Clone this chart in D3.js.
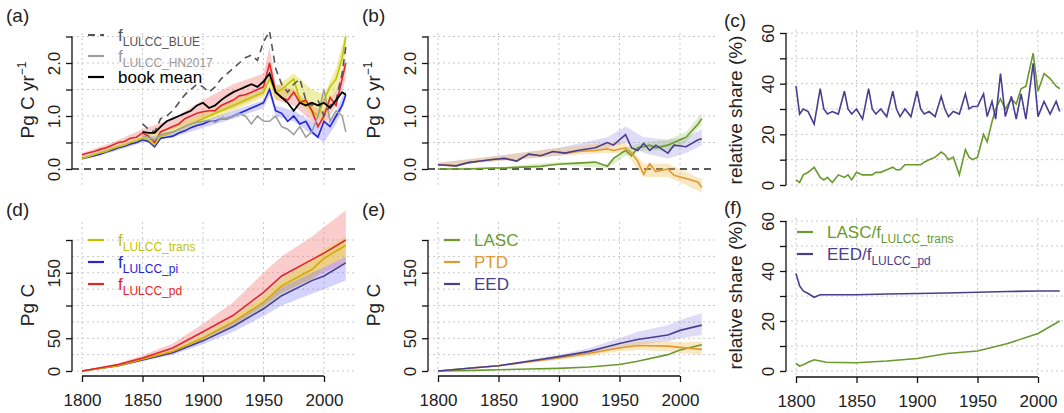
<!DOCTYPE html>
<html><head><meta charset="utf-8">
<script src="https://cdn.jsdelivr.net/npm/d3@7"></script>
<style>body{margin:0;background:#fff}text{font-family:"Liberation Sans",Arial,sans-serif}</style>
</head><body>
<script>
// ---- data ----
const yrsA = d3.range(1800, 2016, 5).concat([2018]);
const yrsBook = d3.range(1850, 2016, 5).concat([2018]);
const aPd = [.27,.3,.33,.37,.4,.45,.5,.52,.58,.6,.68,.62,.5,.7,.75,.8,.85,.95,1.0,1.05,1.08,1.1,1.1,1.2,1.25,1.3,1.38,1.4,1.45,1.5,1.55,2.0,1.45,1.35,1.3,1.45,1.25,1.3,1.1,0.8,1.0,1.35,1.2,1.7,2.0];
const aTrans = [.2,.23,.27,.3,.33,.38,.42,.45,.5,.53,.58,.55,.45,.62,.65,.7,.75,.8,.85,.9,.95,1.0,1.05,1.1,1.15,1.2,1.25,1.3,1.35,1.4,1.45,1.7,1.45,1.5,1.6,1.7,1.3,1.25,1.1,1.0,1.3,1.55,1.7,2.1,2.5];
const aPi = [.2,.22,.25,.28,.32,.36,.4,.43,.47,.5,.55,.52,.42,.58,.6,.62,.68,.72,.78,.82,.85,.9,.9,.95,.95,1.0,1.05,1.1,1.15,1.2,1.25,1.5,1.1,1.05,0.9,1.0,0.85,0.9,0.7,0.6,0.9,0.8,1.0,1.2,1.4];
const aBook = [.7,.68,.68,.8,.9,.95,1.0,1.05,1.1,1.2,1.25,1.15,1.2,1.3,1.38,1.45,1.5,1.55,1.6,1.55,1.65,1.8,1.45,1.35,1.25,1.1,1.25,1.2,1.25,1.2,1.25,1.15,1.3,1.45,1.4];
const aBlue = [.85,.75,.7,.95,1.0,1.1,1.25,1.4,1.5,1.6,1.55,1.45,1.55,1.7,1.8,1.9,2.0,2.1,2.15,2.05,2.4,2.6,1.9,1.6,1.45,1.6,1.7,1.3,1.2,1.3,1.0,1.2,1.3,1.8,2.3];
const aHN = [.62,.6,.55,.65,.68,.7,.75,.8,.85,.88,.9,.92,.88,.95,.95,1.0,1.05,1.0,.85,1.0,.9,.9,1.0,.8,.75,.65,.8,.6,.7,1.0,1.5,.9,1.1,1.0,.7];
const bandYrsA = [1800,1825,1850,1875,1900,1925,1950,1955,1960,1975,1990,2000,2010,2018];
const aPdHi = [.3,.5,.75,.95,1.3,1.6,1.8,2.3,1.6,1.5,1.2,1.1,1.5,2.1];
const aPdLo = [.22,.38,.58,.75,.95,1.15,1.4,1.7,1.3,1.2,.9,.8,1.2,1.7];
const aTrHi = [.23,.42,.62,.8,1.05,1.3,1.5,1.75,1.55,1.8,1.5,1.4,1.9,2.6];
const aTrLo = [.17,.33,.52,.65,.85,1.1,1.35,1.5,1.3,1.4,1.0,.9,1.5,2.2];
const aPiHi = [.22,.4,.58,.7,.9,1.1,1.3,1.55,1.2,1.1,.9,.8,1.1,1.5];
const aPiLo = [.17,.32,.5,.6,.78,.95,1.15,1.4,1.0,.9,.65,.5,.85,1.3];

const yrsB = [1800,1815,1825,1835,1845,1855,1865,1875,1885,1895,1905,1915,1930,1940,1945,1955,1960,1965,1970,1975,1980,1990,1995,2005,2015,2018];
const bEED = [.08,.06,.12,.15,.18,.2,.15,.28,.25,.33,.3,.35,.4,.5,.45,.65,.4,.35,.48,.35,.45,.3,.45,.42,.55,.57];
const bPTD = [.08,.06,.12,.15,.18,.2,.15,.28,.25,.33,.3,.33,.35,.38,.35,.4,.3,.15,-.1,.1,-.05,0,-.12,-.18,-.25,-.35];
const bLASC = [0,0,0,.01,.02,.02,.03,.04,.05,.08,.1,.11,.13,.05,.2,.35,.25,.4,.42,.45,.4,.45,.5,.6,.85,.95];
const bandYrsB = [1800,1850,1900,1940,1955,1970,1990,2005,2018];
const bEEDHi = [.12,.25,.4,.6,.8,.6,.55,.6,.75];
const bEEDLo = [.05,.15,.25,.4,.5,.3,.2,.3,.45];
const bPTDHi = [.12,.25,.4,.5,.5,.1,.1,-.05,-.2];
const bPTDLo = [.05,.15,.25,.3,.3,-.15,-.15,-.3,-.45];
const bLASCHi = [.02,.04,.13,.1,.4,.5,.55,.7,1.05];
const bLASCLo = [0,0,.07,.02,.25,.35,.35,.5,.85];

const yrsC = [1800,1803,1806,1810,1815,1820,1823,1826,1830,1835,1840,1843,1846,1850,1855,1860,1863,1866,1870,1875,1880,1883,1886,1890,1895,1900,1903,1906,1910,1915,1920,1923,1926,1930,1935,1940,1943,1946,1950,1955,1958,1962,1965,1969,1973,1978,1982,1986,1990,1996,2000,2005,2010,2015,2018];
const cEED = [39,28,30,29,24,38,30,28,29,28,37,30,28,30,26,38,30,28,30,27,37,30,27,30,27,37,30,28,29,27,35,30,27,29,28,36,30,31,31,36,27,33,26,44,27,35,26,36,26,48,27,33,28,33,29];
const cLASC = [2,1,4,5,7,3,2,3,1,4,3,4,2,5,4,4,4,5,5,6,7,6,6,8,8,8,8,9,10,11,13,12,10,11,4,14,11,10,11,20,17,25,30,34,30,34,32,38,39,52,37,44,42,39,38];

const yrsD = [1800,1830,1850,1875,1900,1925,1950,1965,1990,2000,2018];
const dPd = [0,10,20,35,60,85,120,145,170,180,200];
const dTrans = [0,8,18,30,50,75,105,130,155,172,192];
const dPi = [0,8,17,28,46,68,95,115,138,145,165];
const dPdHi = [0,12,24,42,72,105,150,175,205,220,245];
const dPdLo = [0,9,17,30,50,70,100,120,140,150,165];
const dTrHi = [0,9,20,33,56,82,115,140,170,185,205];
const dTrLo = [0,7,16,27,45,68,95,118,140,158,175];
const dPiHi = [0,9,18,30,52,76,105,128,150,158,175];
const dPiLo = [0,7,15,25,41,60,84,100,118,125,138];
const eEED = [0,5,8,15,22,30,42,48,55,62,70];
const ePTD = [0,5,8,14,20,27,35,39,38,36,33];
const eLASC = [0,1,2,3,4,6,10,15,25,32,40];
const eEEDHi = [0,6,9,17,25,35,50,60,70,78,88];
const eEEDLo = [0,4,7,13,19,25,35,40,45,50,55];
const ePTDHi = [0,6,9,16,23,30,40,45,45,44,45];
const ePTDLo = [0,4,7,12,17,23,30,32,30,28,25];

const yrsF = [1800,1803,1806,1810,1815,1820,1825,1850,1875,1900,1925,1950,1975,2000,2018];
const fEED = [39,34,32,31,29.5,30.5,30.5,30.5,30.8,31,31.2,31.5,31.8,32,32];
const fLASC = [3,2,2.5,3.5,4.5,4,3.5,3.3,4,5,7,8,11,15,20];

const xTicks = [1800,1850,1900,1950,2000];

// ---- colours ----
const cRed = "#e3262a", cYel = "#c3c300", cBlu = "#2424d8", cPur = "#4a3f8f", cGrn = "#6a9a2c", cOra = "#e09a30";

const svg = d3.select("body").append("svg").attr("width", 1064).attr("height", 413);

function panel(o) {
  const x = d3.scaleLinear().domain([1800, 2000]).range([o.x0, o.x0 + 242]);
  const y = d3.scaleLinear().domain(o.yDom).range(o.yRange);
  const g = svg.append("g");
  const grid = g.append("g").attr("stroke", "#c8c8c8").attr("stroke-dasharray", "2,3").attr("stroke-width", 1);
  o.yGrid.forEach(v => grid.append("line").attr("x1", o.axisX).attr("x2", o.gridRight).attr("y1", y(v)).attr("y2", y(v)));
  xTicks.forEach(v => grid.append("line").attr("x1", x(v)).attr("x2", x(v)).attr("y1", o.gridTop).attr("y2", o.gridBot));
  if (o.zero) g.append("line").attr("x1", o.axisX).attr("x2", o.gridRight).attr("y1", y(0)).attr("y2", y(0))
    .attr("stroke", "#222").attr("stroke-width", 1.6).attr("stroke-dasharray", "7,5");
  // bands
  (o.bands || []).forEach(b => {
    const pts = b.yrs.map((t, i) => [t, b.lo[i], b.hi[i]]);
    g.append("path").attr("d", d3.area().x(d => x(d[0])).y0(d => y(d[1])).y1(d => y(d[2]))(pts)).attr("fill", b.fill);
  });
  (o.lines || []).forEach(l => {
    const pts = l.yrs.map((t, i) => [t, l.v[i]]).filter(d => d[1] !== undefined);
    g.append("path").attr("d", d3.line().x(d => x(d[0])).y(d => y(d[1]))(pts)).attr("fill", "none")
      .attr("stroke", l.c).attr("stroke-width", l.w || 1.6).attr("stroke-dasharray", l.dash || null);
  });
  // y axis
  const ya = g.append("g").attr("transform", `translate(${o.axisX},0)`)
    .call(d3.axisLeft(y).tickValues(o.yTicks).tickSize(6).tickFormat(v => o.yLabels.includes(v) ? o.fmt(v) : ""));
  ya.select(".domain").attr("d", `M0,${y(o.yTicks[0])}V${y(o.yTicks[o.yTicks.length - 1])}`).attr("stroke", "#111").attr("stroke-width", 1.3);
  ya.selectAll(".tick line").attr("stroke", "#111").attr("stroke-width", 1.3);
  ya.selectAll(".tick text").attr("font-size", 17).attr("fill", "#222").attr("text-anchor", "middle")
    .attr("x", 0).attr("dy", 0).attr("transform", "translate(-16,0) rotate(-90)").attr("y", 0).attr("dominant-baseline", "middle");
  // x axis
  if (o.xAxis) {
    const xa = g.append("g").attr("transform", `translate(0,${o.xAxisY})`).call(d3.axisBottom(x).tickValues(xTicks).tickSize(6).tickFormat(d3.format("d")));
    xa.select(".domain").attr("d", `M${x(1800)},0H${x(2000)}`).attr("stroke", "#111").attr("stroke-width", 1.3);
    xa.selectAll(".tick line").attr("stroke", "#111").attr("stroke-width", 1.3);
    xa.selectAll(".tick text").attr("font-size", 17).attr("fill", "#222").attr("y", 18);
  }
  // y label
  const yl = g.append("text").attr("transform", `translate(${o.labX},${o.labY}) rotate(-90)`).attr("text-anchor", "middle")
    .attr("font-size", 19).attr("fill", "#222");
  o.yLab(yl);
  svg.append("text").attr("x", o.tagX).attr("y", o.tagY).attr("font-size", 19).attr("fill", "#222").text(o.tag);
  // legend
  (o.legend || []).forEach((e, i) => {
    const ly = o.legY + i * o.legDy;
    svg.append("line").attr("x1", o.legX).attr("x2", o.legX + 16).attr("y1", ly).attr("y2", ly)
      .attr("stroke", e.c).attr("stroke-width", 2.2).attr("stroke-dasharray", e.dash || null);
    const t = svg.append("text").attr("x", o.legX + 30).attr("y", ly + 6).attr("font-size", 17).attr("fill", e.tc || e.c);
    t.append("tspan").text(e.main);
    if (e.sub) t.append("tspan").attr("dy", 5).attr("font-size", 12).text(e.sub);
  });
}

const pgyr = t => { t.append("tspan").text("Pg C yr"); t.append("tspan").attr("dy", -8).attr("font-size", 12).text("−1"); };
const pgc = t => t.text("Pg C");
const rel = t => t.text("relative share (%)");

const topA = { yDom: [0, 2], yRange: [169, 63], yTicks: [0, .5, 1, 1.5, 2, 2.5], yLabels: [0, 1, 2], yGrid: [.5, 1, 1.5, 2, 2.5],
  fmt: d3.format(".1f"), gridTop: 33, gridBot: 188, zero: true, yLab: pgyr, labY: 100 };
const botD = { yDom: [0, 200], yRange: [371, 240], yTicks: [0, 50, 100, 150, 200], yLabels: [0, 50, 150], yGrid: [0, 25, 50, 75, 100, 125, 150, 175, 200],
  fmt: d3.format("d"), gridTop: 222, gridBot: 376, xAxis: true, xAxisY: 376, yLab: pgc, labY: 305 };
const relC = { yTicks: [0, 10, 20, 30, 40, 50, 60], yLabels: [0, 20, 40, 60], yGrid: [0, 10, 20, 30, 40, 50, 60], fmt: d3.format("d"), yLab: rel };

panel(Object.assign({}, topA, { x0: 82, axisX: 72, gridRight: 356, labX: 34, tag: "(a)", tagX: 6, tagY: 22,
  bands: [{ yrs: bandYrsA, lo: aPdLo, hi: aPdHi, fill: "rgba(240,110,110,0.35)" },
          { yrs: bandYrsA, lo: aTrLo, hi: aTrHi, fill: "rgba(215,215,40,0.4)" },
          { yrs: bandYrsA, lo: aPiLo, hi: aPiHi, fill: "rgba(110,110,250,0.3)" }],
  lines: [{ yrs: yrsA, v: aPi, c: cBlu }, { yrs: yrsA, v: aTrans, c: cYel }, { yrs: yrsA, v: aPd, c: cRed },
          { yrs: yrsBook, v: aHN, c: "#a0a0a0" }, { yrs: yrsBook, v: aBlue, c: "#555", dash: "7,5" },
          { yrs: yrsBook, v: aBook, c: "#000", w: 1.8 }],
  legX: 88, legY: 35, legDy: 21,
  legend: [{ c: "#555", dash: "7,5", main: "f", sub: "LULCC_BLUE", tc: "#555" },
           { c: "#a0a0a0", main: "f", sub: "LULCC_HN2017", tc: "#999" },
           { c: "#000", main: "book mean" }] }));

panel(Object.assign({}, topA, { x0: 438, axisX: 428, gridRight: 715, labX: 380, tag: "(b)", tagX: 362, tagY: 22,
  bands: [{ yrs: bandYrsB, lo: bEEDLo, hi: bEEDHi, fill: "rgba(150,140,230,0.3)" },
          { yrs: bandYrsB, lo: bPTDLo, hi: bPTDHi, fill: "rgba(240,190,80,0.35)" },
          { yrs: bandYrsB, lo: bLASCLo, hi: bLASCHi, fill: "rgba(150,200,90,0.3)" }],
  lines: [{ yrs: yrsB, v: bLASC, c: cGrn }, { yrs: yrsB, v: bPTD, c: cOra }, { yrs: yrsB, v: bEED, c: cPur }] }));

panel(Object.assign({}, relC, { x0: 796, axisX: 786, gridRight: 1064, yDom: [0, 60], yRange: [185, 33], gridTop: 30, gridBot: 190,
  labX: 742, labY: 110, tag: "(c)", tagX: 724, tagY: 27,
  lines: [{ yrs: yrsC, v: cLASC, c: cGrn }, { yrs: yrsC, v: cEED, c: cPur }] }));

panel(Object.assign({}, botD, { x0: 82, axisX: 72, gridRight: 356, labX: 34, tag: "(d)", tagX: 6, tagY: 216,
  bands: [{ yrs: yrsD, lo: dPdLo, hi: dPdHi, fill: "rgba(240,110,110,0.35)" },
          { yrs: yrsD, lo: dTrLo, hi: dTrHi, fill: "rgba(215,215,40,0.4)" },
          { yrs: yrsD, lo: dPiLo, hi: dPiHi, fill: "rgba(110,110,250,0.3)" }],
  lines: [{ yrs: yrsD, v: dPi, c: cPur }, { yrs: yrsD, v: dTrans, c: "#d8a800" }, { yrs: yrsD, v: dPd, c: cRed }],
  legX: 88, legY: 240, legDy: 22,
  legend: [{ c: cYel, main: "f", sub: "LULCC_trans" }, { c: cBlu, main: "f", sub: "LULCC_pi" }, { c: cRed, main: "f", sub: "LULCC_pd" }] }));

panel(Object.assign({}, botD, { x0: 438, axisX: 428, gridRight: 715, labX: 380, tag: "(e)", tagX: 362, tagY: 216,
  bands: [{ yrs: yrsD, lo: eEEDLo, hi: eEEDHi, fill: "rgba(150,140,230,0.3)" },
          { yrs: yrsD, lo: ePTDLo, hi: ePTDHi, fill: "rgba(240,190,80,0.35)" }],
  lines: [{ yrs: yrsD, v: eLASC, c: cGrn }, { yrs: yrsD, v: ePTD, c: cOra }, { yrs: yrsD, v: eEED, c: cPur }],
  legX: 444, legY: 240, legDy: 22,
  legend: [{ c: cGrn, main: "LASC" }, { c: cOra, main: "PTD" }, { c: cPur, main: "EED" }] }));

panel(Object.assign({}, relC, { x0: 796, axisX: 786, gridRight: 1064, yDom: [0, 60], yRange: [371, 221], gridTop: 218, gridBot: 376,
  xAxis: true, xAxisY: 377, labX: 742, labY: 295, tag: "(f)", tagX: 724, tagY: 214,
  lines: [{ yrs: yrsF, v: fLASC, c: cGrn }, { yrs: yrsF, v: fEED, c: cPur }],
  legX: 797, legY: 232, legDy: 22,
  legend: [{ c: cGrn, main: "LASC/f", sub: "LULCC_trans" }, { c: cPur, main: "EED/f", sub: "LULCC_pd" }] }));
</script>
</body></html>
